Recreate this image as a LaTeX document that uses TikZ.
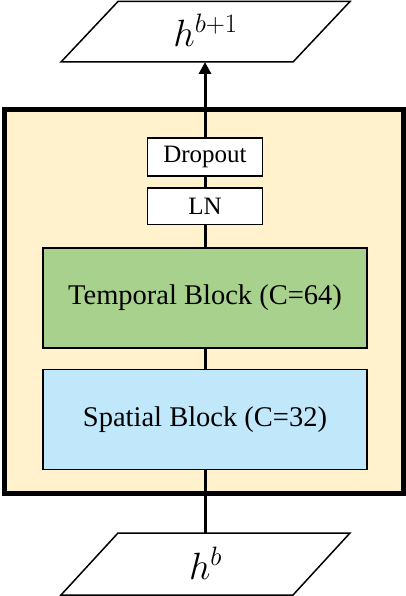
\RequirePackage{fix-cm}
\documentclass[tikz,border=0pt]{standalone}
\usepackage{fontspec}
\setmainfont{Liberation Serif}
\usepackage{tikz}
\usetikzlibrary{arrows.meta}
\definecolor{framefill}{RGB}{255,242,204}
\definecolor{tempgreen}{RGB}{169,209,142}
\definecolor{spatblue}{RGB}{193,232,250}

\begin{document}
\begin{tikzpicture}[x=1pt, y=-1pt,
  box/.style={rectangle, draw, line width=1.5pt, fill=white, inner sep=0pt, outer sep=0pt},
  io/.style={draw, line width=1.5pt, fill=white, line join=miter},
  iotext/.style={inner sep=0pt, font=\fontsize{38}{42}\selectfont},
  conn/.style={line width=3pt}]
\useasboundingbox (0,0) rectangle (406,596);

% Outer block
\node[draw, line width=5pt, fill=framefill, minimum width=399pt, minimum height=383pt, inner sep=0pt, outer sep=0pt] (frame) at (203.5,301.5) {};

% Input and output
\draw[io] (118,1.5) -- (350,1.5) -- (293,62) -- (61,62) -- cycle; % Top
\draw[io] (118,533) -- (350,533) -- (293,595) -- (61,595) -- cycle; % Bottom
\node[iotext] (out) at (205.5,30) {$h^{b+1}$};
\node[iotext] (in) at (205.5,563) {$h^{b}$};
\coordinate (outbase) at (205,62);
\coordinate (intop) at (205,533);

% Layers inside the block
\node[box, minimum width=115pt, minimum height=38pt, font=\fontsize{25}{28}\selectfont] (drop) at (205,157) {Dropout};
\node[box, minimum width=115pt, minimum height=36.5pt, font=\fontsize{25}{28}\selectfont] (ln) at (205,206) {LN};
\node[box, fill=tempgreen, minimum width=324pt, minimum height=100pt, font=\fontsize{28.5}{32}\selectfont] (temporal) at (205,298) {Temporal Block (C=64)};
\node[box, fill=spatblue, minimum width=324pt, minimum height=100pt, font=\fontsize{28.5}{32}\selectfont] (spatial) at (205,419.5) {Spatial Block (C=32)};

% Connections
\draw[conn] (intop) -- (spatial.south);
\draw[conn] (spatial.north) -- (temporal.south);
\draw[conn] (temporal.north) -- (ln.south);
\draw[conn] (ln.north) -- (drop.south);
\draw[conn, -{Triangle[length=12pt, width=12pt]}] (drop.north) -- (outbase);
\end{tikzpicture}
\end{document}
